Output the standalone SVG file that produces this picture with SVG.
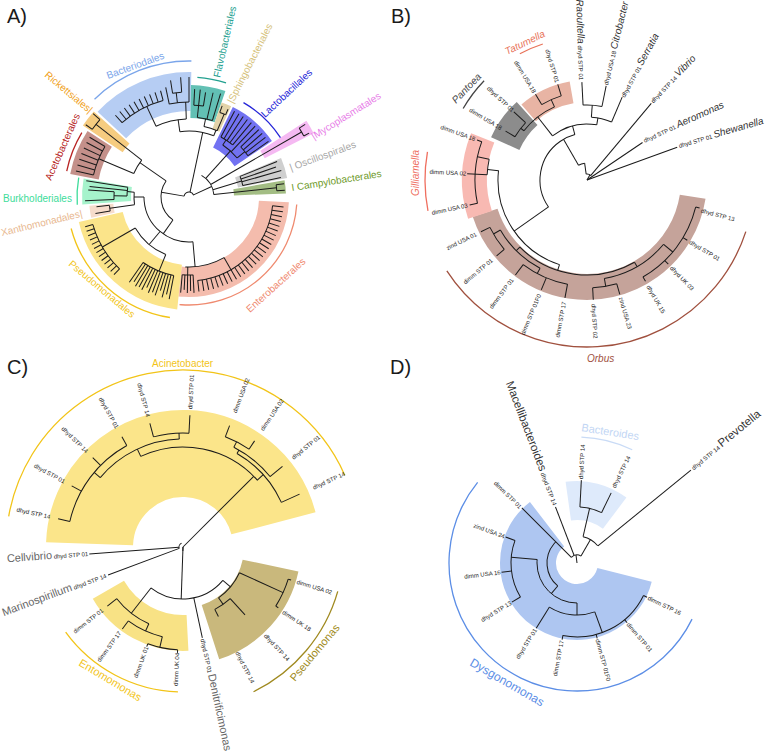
<svg xmlns="http://www.w3.org/2000/svg" width="768" height="755" viewBox="0 0 768 755">
<style>
text{font-family:"Liberation Sans",Arial,sans-serif}
.tr line,.tr circle{stroke:#1a1a1a;stroke-width:1;fill:none}
.hl circle{fill:none}
.ca circle{fill:none;stroke-width:1.3}
.tip{font-size:6px;fill:#222}
.e{text-anchor:end}
.cl{font-size:10px}
.g{font-style:italic;font-size:10px;fill:#333}
.gc{font-size:11px;fill:#666}
.gd{font-size:11.5px;fill:#333}
.pl{font-family:"DejaVu Sans",sans-serif;font-size:20px;fill:#1a1a1a}
</style>
<rect width="768" height="755" fill="#fff"/>

<!-- ================= PANEL A ================= -->
<g id="panelA" transform="translate(189 197)">
 <g id="A-highlights" class="hl">
  <circle r="85" stroke="#f4bcad" stroke-width="30" stroke-dasharray="137.97 2000" transform="rotate(3)"/>
  <circle r="90.5" stroke="#fbe48a" stroke-width="45" stroke-dasharray="112.15 2000" transform="rotate(96)"/>
  <circle r="88" stroke="#f6dccb" stroke-width="24" stroke-dasharray="10.75 2000" transform="rotate(168)"/>
  <circle r="82.5" stroke="#a6f3cc" stroke-width="49" stroke-dasharray="20.16 2000" transform="rotate(176)"/>
  <circle r="106.5" stroke="#c4908a" stroke-width="29" stroke-dasharray="40.89 2000" transform="rotate(191)"/>
  <circle r="104" stroke="#f6cc80" stroke-width="48" stroke-dasharray="14.52 2000" transform="rotate(214)"/>
  <circle r="105.5" stroke="#b6cdf3" stroke-width="39" stroke-dasharray="88.38 2000" transform="rotate(223)"/>
  <circle r="95.5" stroke="#62c0b4" stroke-width="33" stroke-dasharray="30 2000" transform="rotate(271)"/>
  <circle r="86" stroke="#e3d3a8" stroke-width="28" stroke-dasharray="9 2000" transform="rotate(289)"/>
  <circle r="77.5" stroke="#7272f2" stroke-width="45" stroke-dasharray="40.58 2000" transform="rotate(296)"/>
  <circle r="112.5" stroke="#f5b9f2" stroke-width="55" stroke-dasharray="11.78 2000" transform="rotate(327)"/>
  <circle r="75" stroke="#cfcfcf" stroke-width="50" stroke-dasharray="15.71 2000" transform="rotate(337)"/>
  <circle r="71" stroke="#a3bd84" stroke-width="52" stroke-dasharray="9.91 2000" transform="rotate(350)"/>
 </g>
 <g id="A-cladearcs" class="ca">
  <circle r="136" stroke="#7aa5ea" stroke-dasharray="106.8 2000" transform="rotate(226)"/>
  <circle r="120" stroke="#22a08f" stroke-dasharray="29.3 2000" transform="rotate(274)"/>
  <circle r="109" stroke="#2424d8" stroke-dasharray="51.4 2000" transform="rotate(300)"/>
  <circle r="108" stroke="#ef8a6f" stroke-dasharray="171.5 2000" transform="rotate(4)"/>
  <circle r="122" stroke="#f2c418" stroke-dasharray="140.5 2000" transform="rotate(99)"/>
  <circle r="112" stroke="#3fdc9b" stroke-dasharray="27.4 2000" transform="rotate(176)"/>
  <circle r="125" stroke="#b82424" stroke-dasharray="41.45 2000" transform="rotate(192)"/>
 </g>
 <g id="A-connectors" class="tr">
  <circle r="5" stroke-dasharray="12.65 2000" transform="rotate(190)"/>
  <line x1="5" x2="28" transform="rotate(190)"/>
  <circle r="28" stroke-dasharray="43.98 2000" transform="rotate(125)"/>
  <line x1="28" x2="60" transform="rotate(215)"/>
  <circle r="60" stroke-dasharray="15.71 2000" transform="rotate(203)"/>
  <line x1="60" x2="118" transform="rotate(218)"/>
  <circle r="118" stroke-dasharray="12.36 2000" transform="rotate(215)"/>
  <line x1="118" x2="126" transform="rotate(215)"/>
  <line x1="118" x2="127" transform="rotate(221)"/>
  <line x1="60" x2="98" transform="rotate(203)"/>
  <circle r="98" stroke-dasharray="30.79 2000" transform="rotate(193)"/>
  <line x1="98" x2="116" transform="rotate(193)"/><line x1="98" x2="116" transform="rotate(196)"/><line x1="98" x2="116" transform="rotate(199)"/><line x1="98" x2="116" transform="rotate(202)"/><line x1="98" x2="116" transform="rotate(205)"/><line x1="98" x2="116" transform="rotate(208)"/><line x1="98" x2="116" transform="rotate(211)"/>
  <line x1="28" x2="45" transform="rotate(125)"/>
  <circle r="45" stroke-dasharray="74.61 2000" transform="rotate(85)"/>
  <line x1="45" x2="55" transform="rotate(180)"/>
  <circle r="55" stroke-dasharray="12.48 2000" transform="rotate(172)"/>
  <line x1="55" x2="80" transform="rotate(172)"/>
  <circle r="80" stroke-dasharray="5.58 2000" transform="rotate(170)"/>
  <line x1="80" x2="95" transform="rotate(170)"/>
  <line x1="80" x2="93" transform="rotate(174)"/>
  <line x1="55" x2="62" transform="rotate(185)"/>
  <circle r="62" stroke-dasharray="8.66 2000" transform="rotate(181)"/>
  <line x1="62" x2="104" transform="rotate(189)"/>
  <line x1="62" x2="100" transform="rotate(186)"/>
  <line x1="62" x2="75" transform="rotate(181)"/>
  <circle r="75" stroke-dasharray="7.85 2000" transform="rotate(178)"/>
  <line x1="75" x2="104" transform="rotate(178)"/>
  <line x1="75" x2="101" transform="rotate(184)"/>
  <line x1="45" x2="62" transform="rotate(130)"/>
  <circle r="62" stroke-dasharray="41.12 2000" transform="rotate(112)"/>
  <line x1="62" x2="100" transform="rotate(150)"/>
  <circle r="100" stroke-dasharray="52.36 2000" transform="rotate(134)"/>
  <line x1="100" x2="108" transform="rotate(134)"/><line x1="100" x2="108" transform="rotate(136.5)"/><line x1="100" x2="108" transform="rotate(139)"/><line x1="100" x2="108" transform="rotate(141.5)"/><line x1="100" x2="108" transform="rotate(144)"/><line x1="100" x2="108" transform="rotate(146.5)"/><line x1="100" x2="108" transform="rotate(149)"/><line x1="100" x2="108" transform="rotate(151.5)"/><line x1="100" x2="108" transform="rotate(154)"/><line x1="100" x2="108" transform="rotate(156.5)"/><line x1="100" x2="108" transform="rotate(159)"/><line x1="100" x2="108" transform="rotate(161.5)"/><line x1="100" x2="108" transform="rotate(164)"/>
  <line x1="62" x2="80" transform="rotate(112)"/>
  <circle r="80" stroke-dasharray="33.51 2000" transform="rotate(101)"/>
  <line x1="80" x2="104" transform="rotate(101)"/><line x1="80" x2="100" transform="rotate(103)"/><line x1="80" x2="104" transform="rotate(105)"/><line x1="80" x2="98" transform="rotate(107)"/><line x1="80" x2="104" transform="rotate(109)"/><line x1="80" x2="102" transform="rotate(111)"/><line x1="80" x2="104" transform="rotate(113)"/><line x1="80" x2="100" transform="rotate(115)"/><line x1="80" x2="104" transform="rotate(117)"/><line x1="80" x2="103" transform="rotate(119)"/><line x1="80" x2="104" transform="rotate(121)"/><line x1="80" x2="101" transform="rotate(123)"/><line x1="80" x2="104" transform="rotate(125)"/>
  <line x1="45" x2="70" transform="rotate(85)"/>
  <circle r="70" stroke-dasharray="40.32 2000" transform="rotate(60)"/>
  <line x1="70" x2="78" transform="rotate(91)"/>
  <circle r="78" stroke-dasharray="10.89 2000" transform="rotate(87)"/>
  <line x1="78" x2="96" transform="rotate(87)"/><line x1="78" x2="94" transform="rotate(89)"/><line x1="78" x2="96" transform="rotate(91)"/><line x1="78" x2="93" transform="rotate(93)"/><line x1="78" x2="96" transform="rotate(95)"/>
  <line x1="70" x2="84" transform="rotate(60)"/>
  <circle r="84" stroke-dasharray="114.35 2000" transform="rotate(6)"/>
  <line x1="84" x2="95" transform="rotate(6)"/><line x1="84" x2="95" transform="rotate(9)"/><line x1="84" x2="95" transform="rotate(12)"/><line x1="84" x2="95" transform="rotate(15)"/><line x1="84" x2="95" transform="rotate(18)"/><line x1="84" x2="95" transform="rotate(21)"/><line x1="84" x2="95" transform="rotate(24)"/><line x1="84" x2="95" transform="rotate(27)"/><line x1="84" x2="95" transform="rotate(30)"/><line x1="84" x2="95" transform="rotate(33)"/><line x1="84" x2="95" transform="rotate(36)"/><line x1="84" x2="95" transform="rotate(39)"/><line x1="84" x2="95" transform="rotate(42)"/><line x1="84" x2="95" transform="rotate(45)"/><line x1="84" x2="95" transform="rotate(48)"/><line x1="84" x2="95" transform="rotate(51)"/><line x1="84" x2="95" transform="rotate(54)"/><line x1="84" x2="95" transform="rotate(57)"/><line x1="84" x2="95" transform="rotate(60)"/><line x1="84" x2="95" transform="rotate(63)"/><line x1="84" x2="95" transform="rotate(66)"/><line x1="84" x2="95" transform="rotate(69)"/><line x1="84" x2="95" transform="rotate(72)"/><line x1="84" x2="95" transform="rotate(75)"/><line x1="84" x2="95" transform="rotate(78)"/><line x1="84" x2="95" transform="rotate(81)"/><line x1="84" x2="95" transform="rotate(84)"/>
  <line x1="5" x2="66" transform="rotate(282)"/>
  <circle r="66" stroke-dasharray="34.56 2000" transform="rotate(262)"/>
  <line x1="66" x2="72" transform="rotate(292)"/>
  <circle r="72" stroke-dasharray="13.82 2000" transform="rotate(282)"/>
  <line x1="72" x2="90" transform="rotate(293)"/>
  <circle r="90" stroke-dasharray="6.28 2000" transform="rotate(290)"/>
  <line x1="90" x2="97" transform="rotate(290)"/>
  <line x1="90" x2="96" transform="rotate(294)"/>
  <line x1="72" x2="80" transform="rotate(282)"/>
  <circle r="80" stroke-dasharray="15.36 2000" transform="rotate(276)"/>
  <line x1="80" x2="108" transform="rotate(287)"/>
  <line x1="80" x2="107" transform="rotate(283)"/>
  <line x1="80" x2="108" transform="rotate(276)"/>
  <circle r="92" stroke-dasharray="9.63 2000" transform="rotate(273)"/>
  <line x1="92" x2="108" transform="rotate(273)"/>
  <line x1="92" x2="106" transform="rotate(279)"/>
  <line x1="66" x2="78" transform="rotate(262)"/>
  <circle r="78" stroke-dasharray="31.31 2000" transform="rotate(245)"/>
  <line x1="78" x2="95" transform="rotate(268)"/>
  <circle r="95" stroke-dasharray="19.9 2000" transform="rotate(258)"/>
  <line x1="95" x2="112" transform="rotate(258)"/>
  <line x1="95" x2="105" transform="rotate(263)"/>
  <circle r="105" stroke-dasharray="9.16 2000" transform="rotate(261)"/>
  <line x1="105" x2="118" transform="rotate(261)"/>
  <line x1="105" x2="120" transform="rotate(266)"/>
  <line x1="95" x2="120" transform="rotate(270)"/>
  <line x1="78" x2="100" transform="rotate(245)"/>
  <circle r="100" stroke-dasharray="47.12 2000" transform="rotate(228)"/>
  <line x1="100" x2="110" transform="rotate(228)"/><line x1="100" x2="110" transform="rotate(231)"/><line x1="100" x2="110" transform="rotate(234)"/><line x1="100" x2="110" transform="rotate(237)"/><line x1="100" x2="110" transform="rotate(240)"/><line x1="100" x2="110" transform="rotate(243)"/><line x1="100" x2="110" transform="rotate(246)"/><line x1="100" x2="110" transform="rotate(249)"/><line x1="100" x2="110" transform="rotate(252)"/><line x1="100" x2="110" transform="rotate(255)"/>
  <line x1="5" x2="25" transform="rotate(335)"/>
  <circle r="25" stroke-dasharray="23.56 2000" transform="rotate(300)"/>
  <line x1="25" x2="62" transform="rotate(312)"/>
  <circle r="62" stroke-dasharray="19.48 2000" transform="rotate(303)"/>
  <line x1="62" x2="72" transform="rotate(321)"/>
  <circle r="72" stroke-dasharray="11.31 2000" transform="rotate(316)"/>
  <line x1="72" x2="97" transform="rotate(316)"/><line x1="72" x2="97" transform="rotate(319)"/><line x1="72" x2="97" transform="rotate(322)"/><line x1="72" x2="97" transform="rotate(325)"/>
  <line x1="62" x2="68" transform="rotate(303)"/>
  <circle r="68" stroke-dasharray="14.25 2000" transform="rotate(298)"/>
  <line x1="68" x2="97" transform="rotate(298)"/><line x1="68" x2="97" transform="rotate(301)"/><line x1="68" x2="97" transform="rotate(304)"/><line x1="68" x2="97" transform="rotate(307)"/><line x1="68" x2="97" transform="rotate(310)"/>
  <line x1="62" x2="97" transform="rotate(313)"/>
  <line x1="25" x2="130" transform="rotate(330)"/>
  <circle r="130" stroke-dasharray="9.08 2000" transform="rotate(328)"/>
  <line x1="130" x2="137" transform="rotate(328)"/>
  <line x1="130" x2="136" transform="rotate(332)"/>
  <line x1="25" x2="55" transform="rotate(343)"/>
  <circle r="55" stroke-dasharray="9.6 2000" transform="rotate(338)"/>
  <line x1="55" x2="95" transform="rotate(338)"/><line x1="55" x2="92" transform="rotate(341)"/><line x1="55" x2="96" transform="rotate(344)"/><line x1="55" x2="94" transform="rotate(348)"/>
  <line x1="25" x2="88" transform="rotate(354)"/>
  <circle r="88" stroke-dasharray="6.14 2000" transform="rotate(352)"/>
  <line x1="88" x2="96" transform="rotate(352)"/>
  <line x1="88" x2="96" transform="rotate(356)"/>
 </g>
</g>
<g id="A-labels" class="cl">
 <text fill="#7aa5ea" transform="translate(108 79) rotate(-20)">Bacteriodales</text>
 <text fill="#22a08f" transform="translate(220 78) rotate(-77)">Flavobacteriales</text>
 <text fill="#d6c27c" transform="translate(233 104) rotate(-63)">|Sphingobacteriales</text>
 <text fill="#2424d8" transform="translate(265 118) rotate(-43)">Lactobacillales</text>
 <text fill="#e77ce7" transform="translate(314 140) rotate(-32)">|Mycoplasmatales</text>
 <text fill="#a8a8a8" transform="translate(291 171) rotate(-20)">| Oscillospirales</text>
 <text fill="#6e9a2a" transform="translate(292 191) rotate(-9)">I Campylobacterales</text>
 <text fill="#f0a020" transform="translate(44 76) rotate(40)">Rickettsiales|</text>
 <text fill="#b52020" transform="translate(51 181) rotate(-66)">Acetobacterales</text>
 <text fill="#3ddc9a" x="3" y="202">Burkholderiales</text>
 <text fill="#e8b890" transform="translate(2 236) rotate(-13.5)">Xanthomonadales|</text>
 <text fill="#f2c418" transform="translate(68 265) rotate(40)">Pseudomonadales</text>
 <text fill="#ef8a6f" transform="translate(250 313) rotate(-42)">Enterobacterales</text>
</g>

<!-- ================= PANEL B ================= -->
<g id="panelB" transform="translate(587 180)">
 <g id="B-highlights" class="hl">
  <circle r="107" stroke="#c5a39a" stroke-width="26" stroke-dasharray="285.73 2000" transform="rotate(9)"/>
  <circle r="112.5" stroke="#f8b9b2" stroke-width="25" stroke-dasharray="78.54 2000" transform="rotate(162)"/>
  <circle r="89.5" stroke="#8c8c8c" stroke-width="31" stroke-dasharray="37.49 2000" transform="rotate(204)"/>
  <circle r="89" stroke="#e8b4a4" stroke-width="22" stroke-dasharray="48.15 2000" transform="rotate(229)"/>
 </g>
 <g id="B-cladearcs" class="ca">
  <circle r="143" stroke="#e8735a" stroke-dasharray="24.96 2000" transform="rotate(242)"/>
  <circle r="143" stroke="#444" stroke-dasharray="34.94 2000" transform="rotate(210)"/>
  <circle r="162" stroke="#ef6f5f" stroke-dasharray="59.38 2000" transform="rotate(169)"/>
  <circle r="167" stroke="#a0503e" stroke-dasharray="376 2000" transform="rotate(18)"/>
 </g>
 <g id="B-connectors" class="tr">
  <line x1="0" x2="96" transform="rotate(340)"/>
  <line x1="0" x2="67" transform="rotate(326)"/>
  <line x1="0" x2="6" transform="rotate(300)"/>
  <line x1="6" x2="100" transform="rotate(310)"/>
  <circle r="6" stroke-dasharray="5.03 2000" transform="rotate(262)"/>
  <line x1="6" x2="17" transform="rotate(262)"/>
  <circle r="17" stroke-dasharray="6.53 2000" transform="rotate(240)"/>
  <line x1="17" x2="47" transform="rotate(240)"/>
  <circle r="47" stroke-dasharray="90.23 2000" transform="rotate(145)"/>
  <line x1="47" x2="56" transform="rotate(255)"/>
  <circle r="56" stroke-dasharray="46.91 2000" transform="rotate(232)"/>
  <line x1="56" x2="80" transform="rotate(232)"/>
  <circle r="80" stroke-dasharray="39.1 2000" transform="rotate(218)"/>
  <line x1="80" x2="84" transform="rotate(218)"/>
  <circle r="84" stroke-dasharray="17.59 2000" transform="rotate(211)"/>
  <line x1="84" x2="95" transform="rotate(211)"/>
  <line x1="84" x2="100" transform="rotate(223)"/>
  <line x1="80" x2="88" transform="rotate(246)"/>
  <circle r="88" stroke-dasharray="21.5 2000" transform="rotate(239)"/>
  <line x1="88" x2="100" transform="rotate(239)"/>
  <line x1="88" x2="100" transform="rotate(253)"/>
  <line x1="56" x2="63" transform="rotate(280)"/>
  <circle r="63" stroke-dasharray="20.89 2000" transform="rotate(274)"/>
  <line x1="63" x2="90" transform="rotate(293)"/>
  <line x1="63" x2="75" transform="rotate(274)"/>
  <circle r="75" stroke-dasharray="18.98 2000" transform="rotate(267)"/>
  <line x1="75" x2="98" transform="rotate(267)"/>
  <line x1="75" x2="96" transform="rotate(281.5)"/>
  <line x1="47" x2="89" transform="rotate(145)"/>
  <circle r="89" stroke-dasharray="121.16 2000" transform="rotate(108)"/>
  <line x1="89" x2="100" transform="rotate(186)"/>
  <circle r="100" stroke-dasharray="15.71 2000" transform="rotate(183)"/>
  <line x1="100" x2="120" transform="rotate(183)"/>
  <line x1="100" x2="112" transform="rotate(192)"/>
  <circle r="112" stroke-dasharray="62.55 2000" transform="rotate(168)"/>
  <line x1="112" x2="120" transform="rotate(168)"/>
  <line x1="112" x2="117" transform="rotate(200)"/>
  <line x1="89" x2="95" transform="rotate(108)"/>
  <circle r="95" stroke-dasharray="124.36 2000" transform="rotate(60)"/>
  <line x1="95" x2="100" transform="rotate(135)"/>
  <circle r="100" stroke-dasharray="55.85 2000" transform="rotate(118)"/>
  <line x1="100" x2="108" transform="rotate(150)"/>
  <circle r="108" stroke-dasharray="26.39 2000" transform="rotate(140)"/>
  <line x1="108" x2="118" transform="rotate(140)"/>
  <line x1="108" x2="118" transform="rotate(154)"/>
  <line x1="100" x2="106" transform="rotate(118)"/>
  <circle r="106" stroke-dasharray="48.84 2000" transform="rotate(100.6)"/>
  <line x1="106" x2="120" transform="rotate(100.6)"/>
  <line x1="106" x2="119" transform="rotate(112.6)"/>
  <line x1="106" x2="119" transform="rotate(127)"/>
  <line x1="95" x2="100" transform="rotate(60)"/>
  <circle r="100" stroke-dasharray="69.81 2000" transform="rotate(40)"/>
  <line x1="100" x2="108" transform="rotate(80)"/>
  <circle r="108" stroke-dasharray="24.5 2000" transform="rotate(74)"/>
  <line x1="108" x2="119" transform="rotate(74)"/>
  <line x1="108" x2="120" transform="rotate(87)"/>
  <line x1="100" x2="112" transform="rotate(40)"/>
  <circle r="112" stroke-dasharray="89.92 2000" transform="rotate(14)"/>
  <line x1="112" x2="116" transform="rotate(14)"/>
  <line x1="112" x2="117" transform="rotate(31)"/>
  <line x1="112" x2="117" transform="rotate(46)"/>
  <line x1="112" x2="117" transform="rotate(60)"/>
 </g>
 <g id="B-tips" class="tip">
  <text transform="rotate(15) translate(118 0)" dy="2">dhyd STP 13</text>
  <text transform="rotate(31) translate(120 0)" dy="2">dhyd STP 01</text>
  <text transform="rotate(46) translate(121 0)" dy="2">dhyd UK 03</text>
  <text transform="rotate(60) translate(122 0)" dy="2">dhyd UK 15</text>
  <text transform="rotate(74) translate(122 0)" dy="2">zind USA 23</text>
  <text transform="rotate(87) translate(124 0)" dy="2">dhyd STP 02</text>
  <text class="e" transform="rotate(100.6) translate(124 0) rotate(180)" dy="2">dimm STP 17</text>
  <text class="e" transform="rotate(112.6) translate(124 0) rotate(180)" dy="2">dimm STP 01F0</text>
  <text class="e" transform="rotate(127) translate(124 0) rotate(180)" dy="2">dimm STP 01</text>
  <text class="e" transform="rotate(140) translate(124 0) rotate(180)" dy="2">dimm STP 01</text>
  <text class="e" transform="rotate(154) translate(123 0) rotate(180)" dy="2">zind USA 01</text>
  <text class="e" transform="rotate(168) translate(122 0) rotate(180)" dy="2">dimm USA 03</text>
  <text class="e" transform="rotate(183) translate(121 0) rotate(180)" dy="2">dimm USA 02</text>
  <text class="e" transform="rotate(200) translate(119 0) rotate(180)" dy="2">dimm USA 18</text>
  <text class="e" transform="rotate(211) translate(100 0) rotate(180)" dy="2">dimm USA 18</text>
  <text class="e" transform="rotate(223) translate(101 0) rotate(180)" dy="2">dhyd STP 01</text>
  <text class="e" transform="rotate(239) translate(102 0) rotate(180)" dy="2">dimm USA 18</text>
  <text class="e" transform="rotate(253) translate(102 0) rotate(180)" dy="2">dhyd STP 01</text>
 </g>
</g>
<g id="B-labels">
 <text class="tip e" transform="translate(581 80) rotate(88)" dy="2"><tspan class="g">Raoultella</tspan> dhyd STP 01</text>
 <text class="tip" transform="translate(606 85) rotate(-76)" dy="2">dhyd USA 18 <tspan class="g">Citrobacter</tspan></text>
 <text class="tip" transform="translate(623 97) rotate(-61)" dy="2">dhyd STP 01 <tspan class="g">Serratia</tspan></text>
 <text class="tip" transform="translate(652 102) rotate(-46)" dy="2">dhyd STP 14 <tspan class="g">Vibrio</tspan></text>
 <text class="tip" transform="translate(644 141) rotate(-24)" dy="2">dhyd STP 01 <tspan class="g">Aeromonas</tspan></text>
 <text class="tip" transform="translate(679 146) rotate(-16)" dy="2">dhyd STP 01 <tspan class="g">Shewanella</tspan></text>
 <text class="g" style="fill:#e8735a" transform="translate(507 55) rotate(-26)">Tatumella</text>
 <text class="g" style="fill:#444" transform="translate(456 104) rotate(-46)">Pantoea</text>
 <text class="g" style="fill:#ef6f5f" transform="translate(419 196) rotate(-90)">Gilliamella</text>
 <text class="g" style="fill:#a0503e" x="587" y="362">Orbus</text>
</g>

<!-- ================= PANEL C ================= -->
<g id="panelC" transform="translate(183 547)">
 <g id="C-highlights" class="hl">
  <circle r="93.5" stroke="#fbe58a" stroke-width="87" stroke-dasharray="266 2000" transform="rotate(182)"/>
  <circle r="86" stroke="#f8e285" stroke-width="36" stroke-dasharray="94.56 2000" transform="rotate(87)"/>
  <circle r="89.5" stroke="#c9b87c" stroke-width="57" stroke-dasharray="93.72 2000" transform="rotate(12)"/>
 </g>
 <g id="C-cladearcs" class="ca">
  <circle r="177" stroke="#f2c418" stroke-dasharray="451.03 2000" transform="rotate(190)"/>
  <circle r="145" stroke="#f2c418" stroke-dasharray="131.6 2000" transform="rotate(92)"/>
  <circle r="161" stroke="#a08a20" stroke-dasharray="134.88 2000" transform="rotate(16)"/>
 </g>
 <g id="C-connectors" class="tr">
  <line x1="0" x2="4" transform="rotate(92)"/>
  <circle r="4" stroke-dasharray="6 2000" transform="rotate(160)"/>
  <line x1="4" x2="94" transform="rotate(175.7)"/>
  <line x1="4" x2="80" transform="rotate(159.5)"/>
  <line x1="0" x2="100" transform="rotate(315)"/>
  <line x1="0" x2="52" transform="rotate(92)"/>
  <circle r="52" stroke-dasharray="79.87 2000" transform="rotate(40)"/>
  <line x1="52" x2="84" transform="rotate(128)"/>
  <circle r="84" stroke-dasharray="41.05 2000" transform="rotate(114)"/>
  <line x1="84" x2="96" transform="rotate(142)"/>
  <line x1="84" x2="92" transform="rotate(114)"/>
  <circle r="92" stroke-dasharray="37.73 2000" transform="rotate(103)"/>
  <line x1="92" x2="102" transform="rotate(126.5)"/>
  <line x1="92" x2="103" transform="rotate(103)"/>
  <circle r="103" stroke-dasharray="30.56 2000" transform="rotate(93)"/>
  <line x1="103" x2="106" transform="rotate(93)"/>
  <line x1="103" x2="106" transform="rotate(110)"/>
  <line x1="52" x2="93" transform="rotate(78)"/>
  <line x1="52" x2="62" transform="rotate(40)"/>
  <circle r="62" stroke-dasharray="33 2000" transform="rotate(24.5)"/>
  <line x1="62" x2="110" transform="rotate(24.5)"/>
  <circle r="110" stroke-dasharray="29.76 2000" transform="rotate(17)"/>
  <line x1="110" x2="113" transform="rotate(17)"/>
  <line x1="110" x2="113" transform="rotate(32.5)"/>
  <line x1="62" x2="70" transform="rotate(55)"/>
  <circle r="70" stroke-dasharray="18.81 2000" transform="rotate(47.6)"/>
  <line x1="70" x2="78" transform="rotate(63)"/>
  <line x1="70" x2="92" transform="rotate(47.6)"/>
  <circle r="100" stroke-dasharray="127.41 2000" transform="rotate(245)"/>
  <line x1="100" x2="108" transform="rotate(318)"/>
  <circle r="108" stroke-dasharray="67.1 2000" transform="rotate(300)"/>
  <line x1="108" x2="128" transform="rotate(335.6)"/>
  <line x1="108" x2="112" transform="rotate(300)"/>
  <circle r="112" stroke-dasharray="46.91 2000" transform="rotate(297)"/>
  <line x1="112" x2="128" transform="rotate(321)"/>
  <line x1="112" x2="118" transform="rotate(297)"/>
  <circle r="118" stroke-dasharray="26.77 2000" transform="rotate(291)"/>
  <line x1="118" x2="130" transform="rotate(291)"/>
  <line x1="118" x2="128" transform="rotate(304)"/>
  <line x1="100" x2="108" transform="rotate(245)"/>
  <circle r="108" stroke-dasharray="90.48 2000" transform="rotate(220)"/>
  <line x1="108" x2="114" transform="rotate(268)"/>
  <circle r="114" stroke-dasharray="35.81 2000" transform="rotate(255)"/>
  <line x1="114" x2="128" transform="rotate(255)"/>
  <line x1="114" x2="132" transform="rotate(273)"/>
  <line x1="108" x2="116" transform="rotate(220)"/>
  <circle r="116" stroke-dasharray="97.79 2000" transform="rotate(192.7)"/>
  <line x1="116" x2="128" transform="rotate(192.7)"/>
  <line x1="116" x2="127" transform="rotate(208.8)"/>
  <line x1="116" x2="127" transform="rotate(224.7)"/>
  <line x1="116" x2="126" transform="rotate(241)"/>
 </g>
 <g id="C-tips" class="tip">
  <text class="e" transform="rotate(192.7) translate(136 0) rotate(180)" dy="2">dhyd STP 14</text>
  <text class="e" transform="rotate(208.8) translate(135 0) rotate(180)" dy="2">dhyd STP 01</text>
  <text class="e" transform="rotate(224.7) translate(135 0) rotate(180)" dy="2">dhyd STP 14</text>
  <text class="e" transform="rotate(241) translate(136 0) rotate(180)" dy="2">dhyd STP 01</text>
  <text class="e" transform="rotate(255) translate(135 0) rotate(180)" dy="2">dhyd STP 14</text>
  <text transform="rotate(273) translate(138 0)" dy="2">dhyd STP 01</text>
  <text transform="rotate(291) translate(144 0)" dy="2">dimm USA 02</text>
  <text transform="rotate(304) translate(141 0)" dy="2">dimm USA 02</text>
  <text transform="rotate(321) translate(141 0)" dy="2">dhyd STP 01</text>
  <text transform="rotate(335.6) translate(143 0)" dy="2">dhyd STP 14</text>
  <text class="e" transform="rotate(142) translate(102 0) rotate(180)" dy="2">dimm STP 01</text>
  <text class="e" transform="rotate(126.5) translate(106 0) rotate(180)" dy="2">dimm STP 17</text>
  <text class="e" transform="rotate(110) translate(106 0) rotate(180)" dy="2">dimm UK 01</text>
  <text class="e" transform="rotate(93) translate(106 0) rotate(180)" dy="2">dimm UK 04</text>
  <text transform="rotate(62.8) translate(118 0)" dy="2">dhyd STP 14</text>
  <text transform="rotate(47) translate(120 0)" dy="2">dhyd STP 14</text>
  <text transform="rotate(33) translate(119 0)" dy="2">dimm UK 18</text>
  <text transform="rotate(17) translate(119 0)" dy="2">dimm USA 02</text>
  <text class="e" transform="rotate(175.7) translate(95 0) rotate(180)" dy="2"><tspan class="gc">Cellvibrio</tspan> dhyd STP 01</text>
  <text class="e" transform="rotate(159.5) translate(82 0) rotate(180)" dy="2"><tspan class="gc">Marinospirillum</tspan> dhyd STP 14</text>
  <text transform="rotate(78) translate(94 0)" dy="2">dhyd STP 01 <tspan class="gc">Denitrificimonas</tspan></text>
 </g>
</g>
<g id="C-labels">
 <text class="cl" fill="#f2c418" x="152" y="367">Acinetobacter</text>
 <text fill="#f2c418" style="font-size:11px" transform="translate(78 665) rotate(31)">Entomomonas</text>
 <text fill="#a08a20" style="font-size:11px" transform="translate(295 682) rotate(-50)">Pseudomonas</text>
</g>

<!-- ================= PANEL D ================= -->
<g id="panelD" transform="translate(577 563)">
 <g id="D-highlights" class="hl">
  <circle r="49" stroke="#aec6f1" stroke-width="56" stroke-dasharray="186.44 2000" transform="rotate(14)"/>
  <circle r="62.5" stroke="#deeafb" stroke-width="39" stroke-dasharray="49.09 2000" transform="rotate(262)"/>
 </g>
 <g id="D-cladearcs" class="ca">
  <circle r="128" stroke="#5c8ee6" stroke-dasharray="431.17 2000" transform="rotate(26)"/>
  <circle r="126" stroke="#c9dbf6" stroke-dasharray="52.78 2000" transform="rotate(272)"/>
 </g>
 <g id="D-connectors" class="tr">
  <circle r="8" stroke-dasharray="10.47 2000" transform="rotate(225)"/>
  <line x1="0" x2="8" transform="rotate(263)"/>
  <line x1="8" x2="27" transform="rotate(300)"/>
  <circle r="27" stroke-dasharray="17.44 2000" transform="rotate(283)"/>
  <line x1="27" x2="56" transform="rotate(283)"/>
  <circle r="56" stroke-dasharray="22.48 2000" transform="rotate(273)"/>
  <line x1="56" x2="83" transform="rotate(273)"/>
  <line x1="56" x2="78" transform="rotate(296)"/>
  <line x1="27" x2="147" transform="rotate(320.8)"/>
  <line x1="8" x2="60" transform="rotate(249)"/>
  <line x1="8" x2="78" transform="rotate(225)"/>
  <circle r="30" stroke-dasharray="49.74 2000" transform="rotate(130)"/>
  <line x1="30" x2="40" transform="rotate(130)"/>
  <circle r="40" stroke-dasharray="66.32 2000" transform="rotate(90)"/>
  <line x1="40" x2="66" transform="rotate(185)"/>
  <circle r="66" stroke-dasharray="58.75 2000" transform="rotate(149)"/>
  <line x1="66" x2="76" transform="rotate(200)"/>
  <line x1="66" x2="76" transform="rotate(173)"/>
  <line x1="66" x2="76" transform="rotate(149)"/>
  <line x1="40" x2="52" transform="rotate(90)"/>
  <circle r="52" stroke-dasharray="47.19 2000" transform="rotate(70)"/>
  <line x1="52" x2="77" transform="rotate(122)"/>
  <line x1="52" x2="74" transform="rotate(70)"/>
  <circle r="74" stroke-dasharray="96.87 2000" transform="rotate(26)"/>
  <line x1="74" x2="78" transform="rotate(101)"/>
  <line x1="74" x2="78" transform="rotate(75)"/>
  <line x1="74" x2="78" transform="rotate(50)"/>
  <line x1="74" x2="78" transform="rotate(26)"/>
 </g>
 <g id="D-tips" class="tip">
  <text transform="rotate(272.8) translate(84 0)" dy="2">dhyd STP 14</text>
  <text transform="rotate(296) translate(84 0)" dy="2">dhyd STP 14</text>
  <text transform="rotate(75) translate(79 0)" dy="2">dimm STP 01F0</text>
  <text transform="rotate(50) translate(79 0)" dy="2">dimm STP 01</text>
  <text transform="rotate(26) translate(79 0)" dy="2">dimm STP 16</text>
  <text class="e" transform="rotate(224.5) translate(79 0) rotate(180)" dy="2">dimm STP 01</text>
  <text class="e" transform="rotate(200) translate(77 0) rotate(180)" dy="2">zind USA 24</text>
  <text class="e" transform="rotate(173) translate(77 0) rotate(180)" dy="2">dimm USA 16</text>
  <text class="e" transform="rotate(149) translate(77 0) rotate(180)" dy="2">dhyd STP 13</text>
  <text class="e" transform="rotate(122) translate(78 0) rotate(180)" dy="2">dhyd STP 01</text>
  <text class="e" transform="rotate(101) translate(79 0) rotate(180)" dy="2">dimm STP 17</text>
  <text class="e" transform="rotate(249) translate(62 0) rotate(180)" dy="2"><tspan class="gd">Macellibacteroides</tspan> dhyd STP 14</text>
  <text transform="rotate(320.8) translate(149 0)" dy="2">dhyd STP 14 <tspan class="gd">Prevotella</tspan></text>
 </g>
</g>
<g id="D-labels">
 <text fill="#5c8ee6" style="font-size:12px" transform="translate(469 665) rotate(30)">Dysgonomonas</text>
 <text fill="#c2d6f4" style="font-size:11px" transform="translate(581 431) rotate(9)">Bacteroides</text>
</g>

<g id="panel-letters" class="pl">
 <text x="7" y="23">A)</text>
 <text x="391" y="23">B)</text>
 <text x="7" y="374">C)</text>
 <text x="390" y="374">D)</text>
</g>
</svg>
